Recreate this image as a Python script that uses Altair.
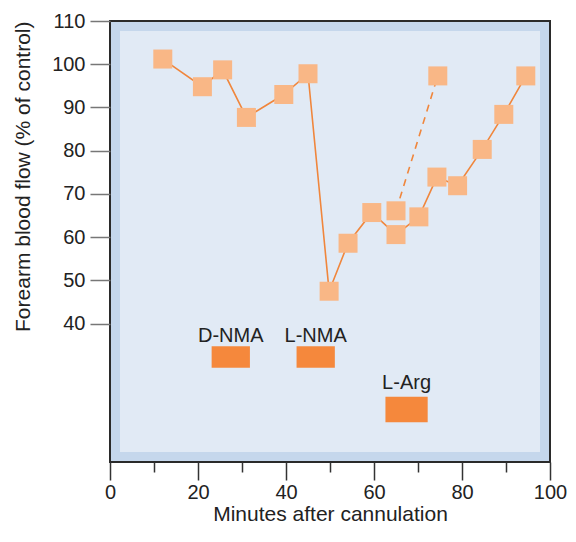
import altair as alt
import pandas as pd

# main series (minutes after cannulation, forearm blood flow % of control)
minutes = [12, 21, 25.6, 31, 39.5, 45, 49.8, 54.1, 59.5, 65, 70.2, 74.3, 79, 84.6, 89.5, 94.5]
flow = [101.2, 94.8, 98.7, 87.7, 93.0, 97.8, 47.5, 58.6, 65.7, 60.6, 64.7, 73.9, 71.9, 80.3, 88.4, 97.3]

# dashed branch
branch_minutes = [65, 74.5]
branch_flow = [66.1, 97.3]

# drug administration bars
drugs = ["D-NMA", "L-NMA", "L-Arg"]
drug_start = [23.1, 42.4, 62.6]
drug_end = [31.8, 51.1, 72.2]
drug_low = [29.8, 29.8, 17.2]
drug_high = [34.8, 34.8, 23.1]
label_y = [35.7, 35.7, 24.9]

W, H = 440, 441
FONT = "Liberation Sans"

main = pd.DataFrame({"minutes": minutes, "flow": flow})
branch = pd.DataFrame({"minutes": branch_minutes, "flow": branch_flow})
pts = pd.concat([main, branch], ignore_index=True)
bars = pd.DataFrame({"drug": drugs, "start": drug_start, "end": drug_end,
                     "low": drug_low, "high": drug_high, "ly": label_y})

xscale = alt.Scale(domain=[0, 100], nice=False, zero=False)
yscale = alt.Scale(domain=[8, 110], nice=False, zero=False)

xaxis = alt.Axis(
    values=list(range(0, 101, 10)),
    labelExpr="datum.value % 20 === 0 ? datum.label : ''",
    tickSize={"condition": {"test": "datum.value % 20 === 0", "value": 18}, "value": 10},
    tickColor="#333333", tickWidth=1.5, domain=False, grid=False,
    labelFont=FONT, labelFontSize=20, labelColor="#222222", labelPadding=2,
    labelFlush=False, labelOverlap=False,
    title="Minutes after cannulation", titleFont=FONT, titleFontSize=21,
    titleFontWeight="normal", titleColor="#222222", titlePadding=1,
)
yaxis = alt.Axis(
    values=list(range(40, 111, 5)),
    labelExpr="datum.value % 10 === 0 ? datum.label : ''",
    tickSize={"condition": {"test": "datum.value % 10 === 0", "value": 20}, "value": 11},
    tickColor="#777777", tickWidth=1.5, domain=False, grid=False,
    labelFont=FONT, labelFontSize=20, labelColor="#222222", labelPadding=5,
    labelFlush=False, labelOverlap=False,
    title="Forearm blood flow (% of control)", titleFont=FONT, titleFontSize=21,
    titleFontWeight="normal", titleColor="#222222", titleAnchor="end", titlePadding=18,
)

inner = alt.Chart(alt.Data(values=[{}])).mark_rect(color="#e1eaf5").encode(
    x=alt.value(10), x2=alt.value(W - 10), y=alt.value(10), y2=alt.value(H - 10)
)

line = alt.Chart(main).mark_line(color="#f0863c", strokeWidth=1.6).encode(
    x=alt.X("minutes:Q", scale=xscale, axis=xaxis),
    y=alt.Y("flow:Q", scale=yscale, axis=yaxis),
    order="minutes:Q",
)

dash = alt.Chart(branch).mark_line(color="#f0863c", strokeWidth=1.6, strokeDash=[7, 6]).encode(
    x=alt.X("minutes:Q", scale=xscale),
    y=alt.Y("flow:Q", scale=yscale),
)

squares = alt.Chart(pts).mark_square(size=361, color="#f9b786", opacity=1).encode(
    x=alt.X("minutes:Q", scale=xscale),
    y=alt.Y("flow:Q", scale=yscale),
)

drug_bars = alt.Chart(bars).mark_rect(color="#f5883c").encode(
    x=alt.X("start:Q", scale=xscale), x2="end:Q",
    y=alt.Y("low:Q", scale=yscale), y2="high:Q",
)

drug_text = alt.Chart(bars).mark_text(
    font=FONT, fontSize=20, color="#222222", baseline="alphabetic", align="center"
).encode(
    x=alt.X("mid:Q", scale=xscale),
    y=alt.Y("ly:Q", scale=yscale),
    text="drug:N",
).transform_calculate(mid="(datum.start + datum.end) / 2")

chart = alt.layer(inner, drug_bars, drug_text, line, dash, squares).properties(
    width=W, height=H,
    autosize=alt.AutoSizeParams(type="none"),
    padding={"left": 102, "top": 13, "right": 18, "bottom": 64},
    background="white",
).configure_view(
    fill="#c5d7ec", stroke="#2a2a2a", strokeWidth=2
)

chart.save("out.html", embed_options={"renderer": "svg", "actions": False})
